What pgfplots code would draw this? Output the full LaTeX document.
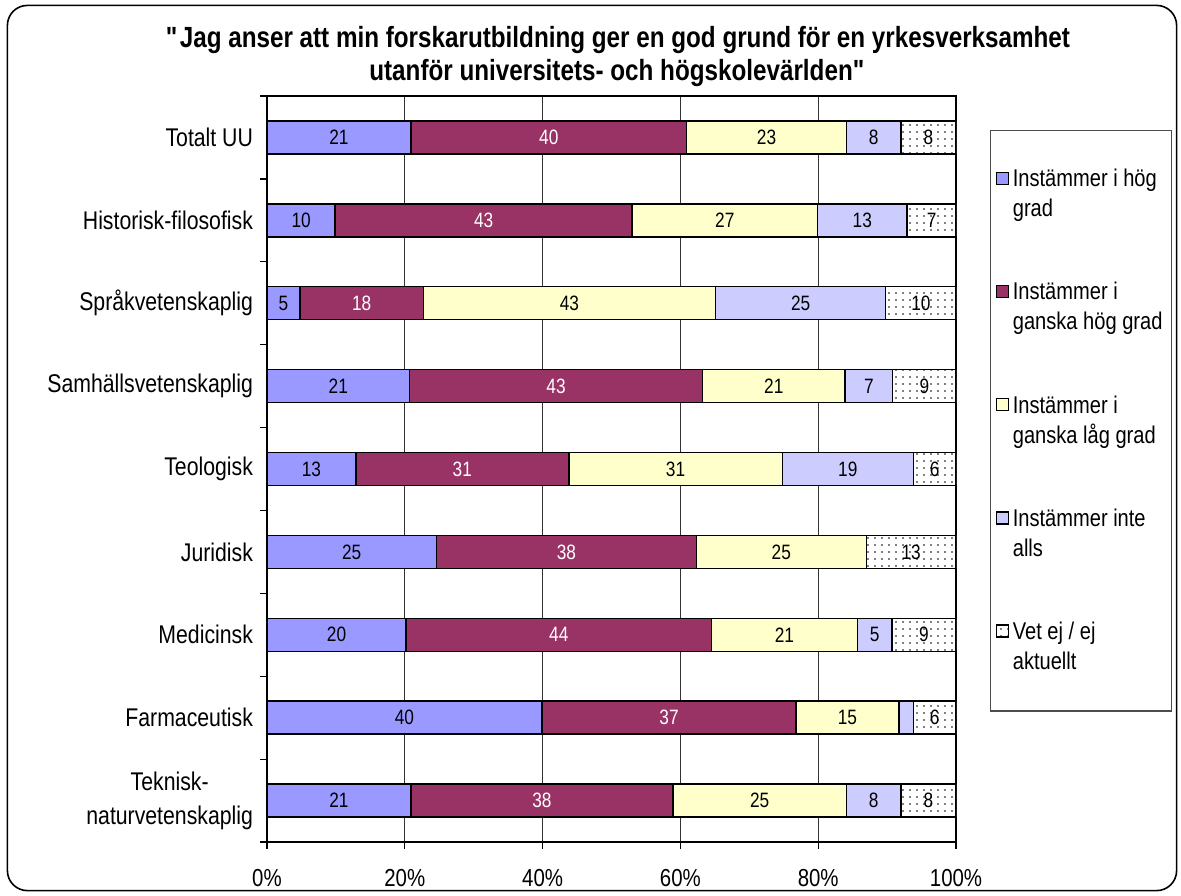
\documentclass[border=0pt]{standalone}
\usepackage{fontspec}
\setmainfont{Liberation Sans}[FakeStretch=0.83]
\usepackage{pgfplots}
\pgfplotsset{compat=1.18}
\usepackage{pgfplotstable}
\usetikzlibrary{patterns.meta}

\definecolor{c1}{HTML}{9999FF}
\definecolor{c2}{HTML}{993366}
\definecolor{c3}{HTML}{FFFFCC}
\definecolor{c4}{HTML}{CCCCFF}

% segment widths (percent of the bar), labels as printed on the bars
\pgfplotstableread{
a    b    c    d    e    la lb lc ld le
20.9 40.0 23.2 7.9  8.0  21 40 23 8  8
9.9  43.1 26.9 13.0 7.1  10 43 27 13 7
4.8  17.9 42.4 24.7 10.2 5  18 43 25 10
20.7 42.5 20.7 6.9  9.2  21 43 21 7  9
12.9 30.9 31.0 19.0 6.2  13 31 31 19 6
24.6 37.7 24.7 0.0  13.0 25 38 25 {} 13
20.2 44.3 21.2 5.0  9.3  20 44 21 5  9
39.9 36.9 14.9 2.1  6.2  40 37 15 {} 6
20.9 38.0 25.2 7.9  8.0  21 38 25 8  8
}\survey

% #1 = label colour (stacked bars already put the node in the segment middle)
\pgfplotsset{
  seg/.style={
    draw=black, line width=0.75pt,
    point meta=explicit symbolic,
    nodes near coords,
    every node near coord/.style={anchor=center, inner sep=0pt,
      font=\fontsize{10.4}{11}\selectfont, text=#1},
  },
}

\begin{document}
\begin{tikzpicture}
\path[use as bounding box] (0,0) rectangle (590.5pt,-447.5pt);
\draw[line width=0.8pt, rounded corners=10pt] (3.7pt,-2.7pt) rectangle (588.3pt,-445.3pt);
\node[font=\bfseries\fontsize{14.6}{16.5}\selectfont, align=center] at (309pt,-28.5pt)
  {\textquotedbl Jag anser att min forskarutbildning ger en god grund för en yrkesverksamhet\\utanför universitets- och högskolevärlden\textquotedbl};
\begin{axis}[
  at={(133.5pt,-421pt)}, anchor=south west,
  scale only axis, width=344.5pt, height=373pt,
  xbar stacked, bar width=16.5pt,
  xmin=0, xmax=100, ymin=-0.5, ymax=8.5, y dir=reverse,
  axis line style={line width=0.65pt},
  xtick={0,20,...,100},
  xticklabels={0\%,20\%,40\%,60\%,80\%,100\%},
  xticklabel style={font=\fontsize{12.3}{14}\selectfont, yshift=-6.5pt},
  xmajorgrids, grid style={black!80, line width=0.5pt},
  ytick={-0.5,0.5,...,8.5}, yticklabels={,,,,,,,,,},
  extra y ticks={0,1,...,8},
  extra y tick labels={Totalt UU,Historisk-filosofisk,Språkvetenskaplig,Samhällsvetenskaplig,Teologisk,Juridisk,Medicinsk,Farmaceutisk,{Teknisk-\\naturvetenskaplig}},
  extra y tick style={major tick length=0pt},
  yticklabel style={align=center, font=\fontsize{12.8}{17}\selectfont, xshift=-3.5pt},
  tick align=outside, xtick pos=lower, ytick pos=left,
  major tick length=3.4pt,
  tick style={black, line width=0.6pt},
  legend cell align=left,
  legend style={at={(1.0494,0.9544)}, anchor=north west, draw=black!70,
    line width=0.6pt, font=\fontsize{12.1}{15}\selectfont,
    cells={align=left}, row sep=27.3pt, inner xsep=2.5pt, inner ysep=17.3pt},
  legend image code/.code={\draw[#1, line width=0.6pt] (0pt,5pt) rectangle (6pt,11pt);},
]
\addplot[seg=black, fill=c1] table[x=a, y expr=\coordindex, meta=la] {\survey};
\addplot[seg=white, fill=c2] table[x=b, y expr=\coordindex, meta=lb] {\survey};
\addplot[seg=black, fill=c3] table[x=c, y expr=\coordindex, meta=lc] {\survey};
\addplot[seg=black, fill=c4] table[x=d, y expr=\coordindex, meta=ld] {\survey};
\addplot[seg=black, fill=white, postaction={pattern={Dots[distance=3.5pt, radius=0.45pt]}}] table[x=e, y expr=\coordindex, meta=le] {\survey};
\addlegendentry{Instämmer i hög\\grad}
\addlegendentry{Instämmer i\\ganska hög grad}
\addlegendentry{Instämmer i\\ganska låg grad}
\addlegendentry{Instämmer inte\\alls}
\addlegendentry{Vet ej / ej\\aktuellt}
\end{axis}
\end{tikzpicture}
\end{document}
